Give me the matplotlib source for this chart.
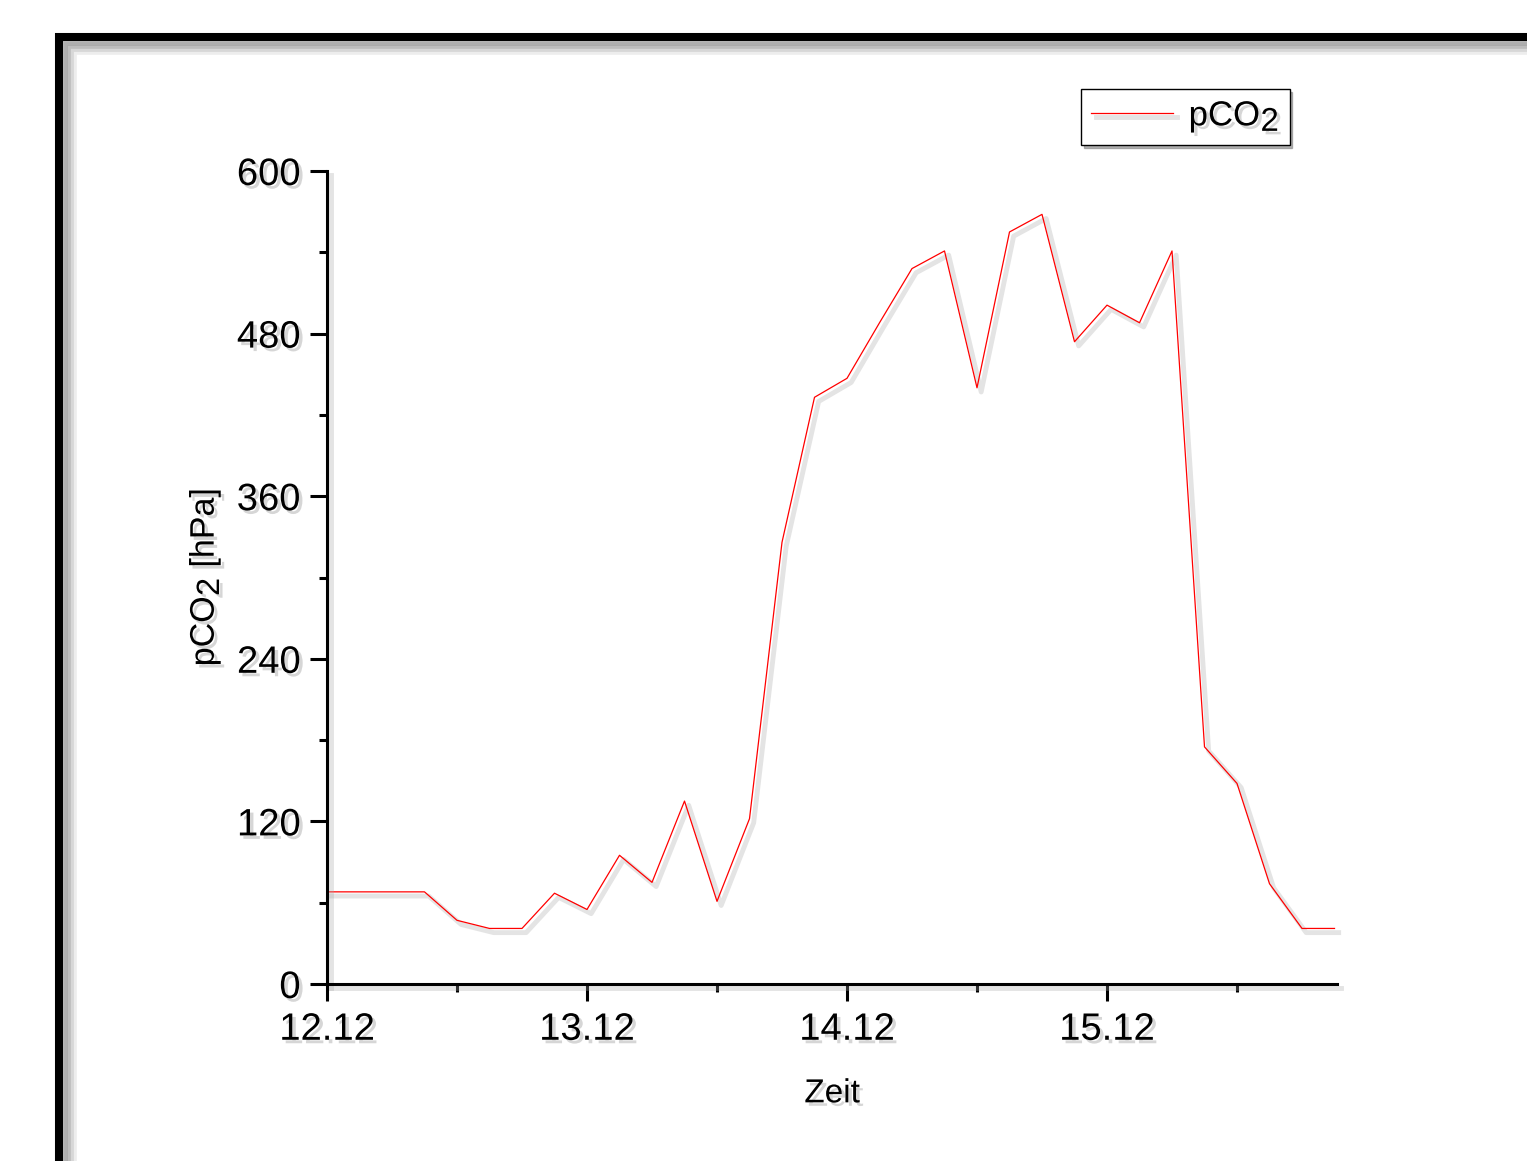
import matplotlib
matplotlib.use("Agg")
import matplotlib.pyplot as plt
import matplotlib.patheffects as pe
from matplotlib.patches import Rectangle
from matplotlib.ticker import FixedLocator

# Origin-style subscripts: almost full-size digits
try:
    import matplotlib._mathtext as _mt
    _mt.SHRINK_FACTOR = 0.95
except Exception:
    pass

plt.rcParams['font.family'] = ['Liberation Sans', 'DejaVu Sans']
plt.rcParams['mathtext.fontset'] = 'custom'
plt.rcParams['mathtext.rm'] = 'Liberation Sans'
plt.rcParams['mathtext.it'] = 'Liberation Sans'

# time in hours since 12.12 00:00, 3 h sampling
hours = [0, 3, 6, 9, 12, 15, 18, 21, 24, 27, 30, 33, 36, 39, 42, 45,
         48, 51, 54, 57, 60, 63, 66, 69, 72, 75, 78, 81, 84, 87, 90, 93]
pco2 = [68, 68, 68, 68, 47, 41, 41, 67, 55, 95, 75, 135, 61, 122, 326, 433,
        447, 488, 528, 541, 440, 555, 568, 474, 501, 488, 541, 175, 148, 74, 41, 41]

day_ticks = [0, 24, 48, 72]
day_labels = ['12.12', '13.12', '14.12', '15.12']
half_day_ticks = [12, 36, 60, 84]
y_ticks = [0, 120, 240, 360, 480, 600]
y_minor = [60, 180, 300, 420, 540]

W, H = 1527, 1161
fig = plt.figure(figsize=(W / 100, H / 100), dpi=100)
ax = fig.add_axes([327 / W, 1 - 984 / H, (1337 - 327) / W, (984 - 171) / H])

shadow_txt = [pe.withSimplePatchShadow(offset=(2.5, -2.5), shadow_rgbFace='0.6', alpha=0.4)]
shadow_line = [pe.SimpleLineShadow(offset=(3, -3), shadow_color='0.65', alpha=0.3, linewidth=3.5), pe.Normal()]

# outer frame of the page, soft shadow built from a few offset strokes
frame = Rectangle((59 / W, -0.3), 1.5, 0.3 + (1 - 37 / H), transform=fig.transFigure,
                  fill=False, edgecolor='black', linewidth=5.8, zorder=5)
frame_fx = [pe.SimpleLineShadow(offset=(o, -o), shadow_color='0.45', alpha=a, linewidth=7)
            for o, a in ((9, 0.12), (7, 0.18), (5, 0.25), (3, 0.3))]
frame.set_path_effects(frame_fx + [pe.Normal()])
fig.add_artist(frame)

line, = ax.plot(hours, pco2, color='red', linewidth=0.9, label='pCO$_2$', clip_on=False)
line.set_path_effects(shadow_line)

ax.set_xlim(0, 93.23)
ax.set_ylim(0, 600)
ax.spines['top'].set_visible(False)
ax.spines['right'].set_visible(False)
for s in ('left', 'bottom'):
    ax.spines[s].set_linewidth(2.2)
    ax.spines[s].set_path_effects(shadow_line)

ax.set_xticks(day_ticks)
ax.set_xticklabels(day_labels)
ax.xaxis.set_minor_locator(FixedLocator(half_day_ticks))
ax.set_yticks(y_ticks)
ax.yaxis.set_minor_locator(FixedLocator(y_minor))
ax.tick_params(which='major', length=12, width=2.2, labelsize=27.5, direction='out')
ax.tick_params(which='minor', length=6, width=2.2, direction='out')
ax.tick_params(axis='y', pad=7)
ax.tick_params(axis='x', pad=8)
for lbl in ax.get_xticklabels() + ax.get_yticklabels():
    lbl.set_path_effects(shadow_txt)

xl = ax.set_xlabel('Zeit', fontsize=24, labelpad=22)
yl = ax.set_ylabel('pCO$_2$ [hPa]', fontsize=24.5, labelpad=10)
xl.set_path_effects(shadow_txt)
yl.set_path_effects(shadow_txt)

leg = ax.legend(loc='upper left', bbox_to_anchor=(1081 / W, 1 - 89 / H), bbox_transform=fig.transFigure,
                fontsize=25, frameon=True, fancybox=False, shadow={'color': '0.5', 'alpha': 0.6},
                edgecolor='black', handlelength=2.35, borderpad=0.3, handletextpad=0.45, borderaxespad=0)
leg.get_frame().set_linewidth(1.0)
for t in leg.get_texts():
    t.set_path_effects(shadow_txt)

fig.savefig('out.png', dpi=100)
